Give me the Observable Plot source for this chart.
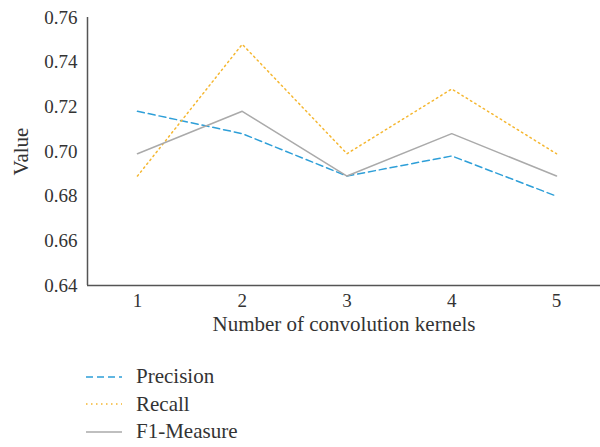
<!DOCTYPE html>
<html><head><meta charset="utf-8">
<script src="https://cdn.jsdelivr.net/npm/d3@7"></script>
<script src="https://cdn.jsdelivr.net/npm/@observablehq/plot@0.6"></script>
<style>
body{margin:0;background:#fff;font-family:"Liberation Serif","Times New Roman","DejaVu Serif",serif;}
#legend{padding-top:18px;padding-left:86px;}
.row{height:27.5px;display:flex;align-items:center;font-size:21px;color:#333;}
.row svg{margin-right:14px;}
</style>
</head><body>
<div id="chart"></div>
<div id="legend"></div>
<script>
const kernels = [1, 2, 3, 4, 5];
const precision = [0.718, 0.708, 0.689, 0.698, 0.680];
const recall = [0.689, 0.748, 0.699, 0.728, 0.699];
const f1 = [0.699, 0.718, 0.689, 0.708, 0.689];
const yTicks = [0.64, 0.66, 0.68, 0.70, 0.72, 0.74, 0.76];
const seriesNames = ["Precision", "Recall", "F1-Measure"];
const seriesValues = [precision, recall, f1];
const colors = ["#2E9FD8", "#F5B731", "#AAAAAA"];
const dashes = ["7,4", "1.5,3.5", null];

const data = [];
seriesNames.forEach((s, i) => kernels.forEach((k, j) => data.push({series: s, k, v: seriesValues[i][j]})));

const font = "'Liberation Serif', 'Times New Roman', 'DejaVu Serif', serif";
const xDom = [0.523, 5.42];
const chart = Plot.plot({
  width: 600, height: 345,
  marginLeft: 87, marginRight: 0, marginTop: 17, marginBottom: 60,
  style: {fontFamily: font, fontSize: "19px", color: "#333", background: "#fff"},
  x: {domain: xDom},
  y: {domain: [0.64, 0.76]},
  marks: [
    Plot.axisY({ticks: yTicks, tickSize: 0, tickPadding: 10, tickFormat: d3.format(".2f"), fontSize: 19, label: null}),
    Plot.axisY({ticks: [], label: "Value", labelAnchor: "center", labelArrow: "none", labelOffset: 74, fontSize: 21}),
    Plot.axisX({ticks: kernels, tickSize: 0, tickPadding: 8, tickFormat: d => d, fontSize: 19, label: null}),
    Plot.axisX({ticks: [], label: "Number of convolution kernels", labelAnchor: "center", labelArrow: "none", labelOffset: 45, fontSize: 21}),
    ...seriesNames.map((s, i) => Plot.line(data.filter(d => d.series === s), {
      x: "k", y: "v", stroke: colors[i], strokeWidth: 1.5, strokeDasharray: dashes[i]
    })),
    Plot.ruleX([xDom[0]], {stroke: "#555", strokeWidth: 1.5}),
    Plot.ruleY([0.64], {stroke: "#555", strokeWidth: 1.5})
  ]
});
document.getElementById("chart").appendChild(chart);

const leg = document.getElementById("legend");
seriesNames.forEach((s, i) => {
  const row = document.createElement("div");
  row.className = "row";
  row.innerHTML = `<svg width="36" height="6"><line x1="0" y1="3" x2="36" y2="3" stroke="${colors[i]}" stroke-width="1.5" ${dashes[i] ? `stroke-dasharray="${dashes[i]}"` : ""}/></svg><span>${s}</span>`;
  leg.appendChild(row);
});
</script>
</body></html>
